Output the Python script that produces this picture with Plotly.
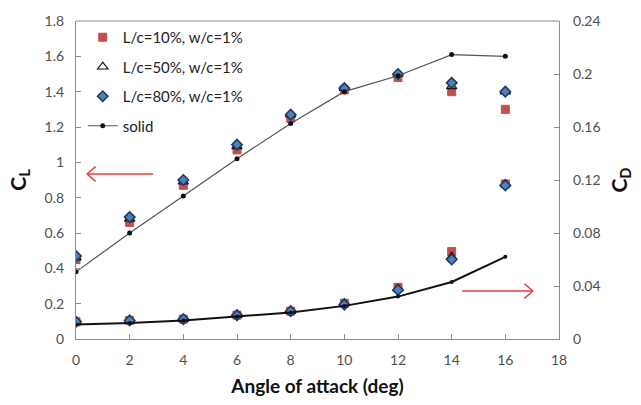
import plotly.graph_objects as go

# Angle of attack (deg)
alpha = [0, 2, 4, 6, 8, 10, 12, 14, 16]

# Lift coefficient C_L
cl_l10 = [0.45, 0.66, 0.87, 1.07, 1.25, 1.41, 1.48, 1.40, 1.30]
cl_l50 = [0.46, 0.68, 0.89, 1.09, 1.27, 1.42, 1.50, 1.43, 1.40]
cl_l80 = [0.47, 0.69, 0.90, 1.10, 1.27, 1.42, 1.50, 1.45, 1.40]
cl_solid = [0.38, 0.60, 0.81, 1.02, 1.22, 1.40, 1.49, 1.61, 1.60]

# Drag coefficient C_D
cd_l10 = [0.013, 0.014, 0.015, 0.018, 0.021, 0.027, 0.039, 0.066, 0.117]
cd_l50 = [0.013, 0.014, 0.015, 0.018, 0.021, 0.027, 0.038, 0.062, 0.117]
cd_l80 = [0.013, 0.014, 0.015, 0.018, 0.021, 0.026, 0.037, 0.060, 0.116]
cd_solid = [0.011, 0.012, 0.014, 0.017, 0.020, 0.025, 0.032, 0.043, 0.062]

names = ["L/c=10%, w/c=1%", "L/c=50%, w/c=1%", "L/c=80%, w/c=1%", "solid"]

FONT = "Lato, 'Open Sans', sans-serif"
RED = "#C0504D"
BLUE = "#4F81BD"
NAVY = "#1F3864"

styles = [
    dict(symbol="square", size=8, color=RED, line=dict(color=RED, width=1)),
    dict(symbol="triangle-up-open", size=9, color="#111111", line=dict(color="#111111", width=1.2)),
    dict(symbol="diamond", size=8, color=BLUE, line=dict(color=NAVY, width=1.6)),
]

fig = go.Figure()

cl_sets = [cl_l10, cl_l50, cl_l80]
cd_sets = [cd_l10, cd_l50, cd_l80]

for i in range(3):
    fig.add_trace(go.Scatter(
        x=alpha, y=cl_sets[i], mode="markers", name=names[i],
        legendgroup=names[i], marker=styles[i], yaxis="y"))
for i in range(3):
    fig.add_trace(go.Scatter(
        x=alpha, y=cd_sets[i], mode="markers", name=names[i],
        legendgroup=names[i], showlegend=False, marker=styles[i], yaxis="y2"))

fig.add_trace(go.Scatter(
    x=alpha, y=cl_solid, mode="lines+markers", name=names[3], legendgroup=names[3],
    line=dict(color="#555555", width=1.2),
    marker=dict(symbol="circle", size=5, color="#111111"), yaxis="y"))
fig.add_trace(go.Scatter(
    x=alpha, y=cd_solid, mode="lines+markers", name=names[3], legendgroup=names[3],
    showlegend=False, line=dict(color="#111111", width=2),
    marker=dict(symbol="circle", size=4, color="#111111"), yaxis="y2"))

axis_common = dict(
    showline=True, linecolor="#8c8c8c", linewidth=1.2, mirror=False,
    ticks="inside", ticklen=5, tickcolor="#8c8c8c",
    showgrid=False, zeroline=False,
    tickfont=dict(family=FONT, size=14, color="#4f4f4f"),
)

fig.update_layout(
    width=641, height=405,
    margin=dict(l=76, r=82, t=20, b=65),
    paper_bgcolor="white", plot_bgcolor="white",
    showlegend=True,
    legend=dict(x=0.014, y=1.0, xanchor="left", yanchor="top",
                bgcolor="rgba(0,0,0,0)", traceorder="grouped", tracegroupgap=7,
                font=dict(family=FONT, size=15, color="#222222")),
    xaxis=dict(range=[0, 18], tickvals=list(range(0, 19, 2)), ticklabelstandoff=8,
               title=dict(text="<b>Angle of attack (deg)</b>", font=dict(family=FONT, size=19, color="#111111"), standoff=12),
               **axis_common),
    yaxis=dict(range=[0, 1.8], tickvals=[0, 0.2, 0.4, 0.6, 0.8, 1, 1.2, 1.4, 1.6, 1.8],
               ticktext=["0", "0.2", "0.4", "0.6", "0.8", "1", "1.2", "1.4", "1.6", "1.8"],
               ticklabelstandoff=8,
               title=dict(text="<b>C<sub>L</sub></b>", font=dict(family=FONT, size=21, color="#111111"), standoff=12),
               **axis_common),
    yaxis2=dict(range=[0, 0.24], tickvals=[0, 0.04, 0.08, 0.12, 0.16, 0.2, 0.24],
                ticktext=["0", "0.04", "0.08", "0.12", "0.16", "0.2", "0.24"],
                overlaying="y", side="right", ticklabelstandoff=10,
                title=dict(text="<b>C<sub>D</sub></b>", font=dict(family=FONT, size=21, color="#111111"), standoff=12),
                **axis_common),
)

# Frame the top edge of the plot area
fig.add_shape(type="line", xref="paper", yref="paper", x0=0, x1=1, y0=1, y1=1,
              line=dict(color="#8c8c8c", width=1.2))

# Red open-headed arrows pointing toward the axis each curve family belongs to
ARROW = "#F03C3C"
def arrow(x_tail, x_head, y, yref, dx, dy):
    line = dict(color=ARROW, width=1.5)
    fig.add_shape(type="line", xref="x", yref=yref, x0=x_tail, x1=x_head, y0=y, y1=y, line=line)
    fig.add_shape(type="line", xref="x", yref=yref, x0=x_head, x1=x_head + dx, y0=y, y1=y + dy, line=line)
    fig.add_shape(type="line", xref="x", yref=yref, x0=x_head, x1=x_head + dx, y0=y, y1=y - dy, line=line)

arrow(2.87, 0.41, 0.934, "y", 0.32, 0.042)
arrow(14.39, 17.03, 0.0362, "y2", -0.32, 0.0055)

fig.write_html("out.html")
